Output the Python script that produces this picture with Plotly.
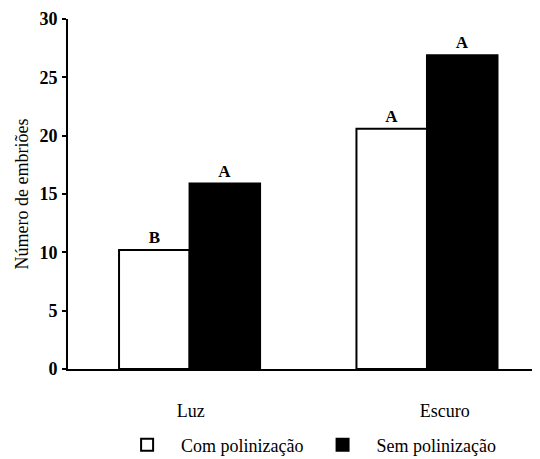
import plotly.graph_objects as go

categories = ["Luz", "Escuro"]
com_polinizacao = [10.2, 20.6]
sem_polinizacao = [15.9, 26.9]
com_letters = ["B", "A"]
sem_letters = ["A", "A"]
y_ticks = [0, 5, 10, 15, 20, 25, 30]

x_pos = list(range(len(categories)))
FONT = "Liberation Serif, Times New Roman, DejaVu Serif, serif"

fig = go.Figure()
fig.add_trace(go.Bar(
    x=x_pos, y=com_polinizacao, name="Com polinização",
    marker=dict(color="white", line=dict(color="black", width=2)),
    text=com_letters, textposition="outside",
    textfont=dict(family=FONT, size=17, color="black", weight="bold"),
    cliponaxis=False,
))
fig.add_trace(go.Bar(
    x=x_pos, y=sem_polinizacao, name="Sem polinização",
    marker=dict(color="black", line=dict(color="black", width=2)),
    text=sem_letters, textposition="outside",
    textfont=dict(family=FONT, size=17, color="black", weight="bold"),
    cliponaxis=False,
))

fig.update_layout(
    width=532, height=451,
    margin=dict(l=60, r=5, t=11, b=90, autoexpand=False),
    paper_bgcolor="white", plot_bgcolor="white",
    barmode="group", bargap=0.406, bargroupgap=0,
    font=dict(family=FONT, size=18, color="black"),
    showlegend=True,
    legend=dict(
        orientation="h", x=0.512, xanchor="center", y=-0.217, yanchor="middle",
        font=dict(family=FONT, size=18, color="black"),
        itemwidth=58,
    ),
)
fig.update_xaxes(
    range=[-0.512, 1.455], automargin=False,
    tickvals=[0.005, 1.075], ticktext=categories,
    showline=True, linecolor="black", linewidth=2,
    ticks="", ticklabelstandoff=24,
    tickfont=dict(family=FONT, size=18, color="black"),
    showgrid=False, zeroline=False,
)
fig.update_yaxes(
    range=[0, 30], tickvals=y_ticks, automargin=False,
    showline=True, linecolor="black", linewidth=2,
    ticks="outside", ticklen=4, tickwidth=2, tickcolor="black",
    ticklabelstandoff=1,
    tickfont=dict(family=FONT, size=18, color="black", weight="bold"),
    title=dict(text="Número de embriões", font=dict(family=FONT, size=18), standoff=6),
    showgrid=False, zeroline=False,
)

fig.write_html("out.html")
